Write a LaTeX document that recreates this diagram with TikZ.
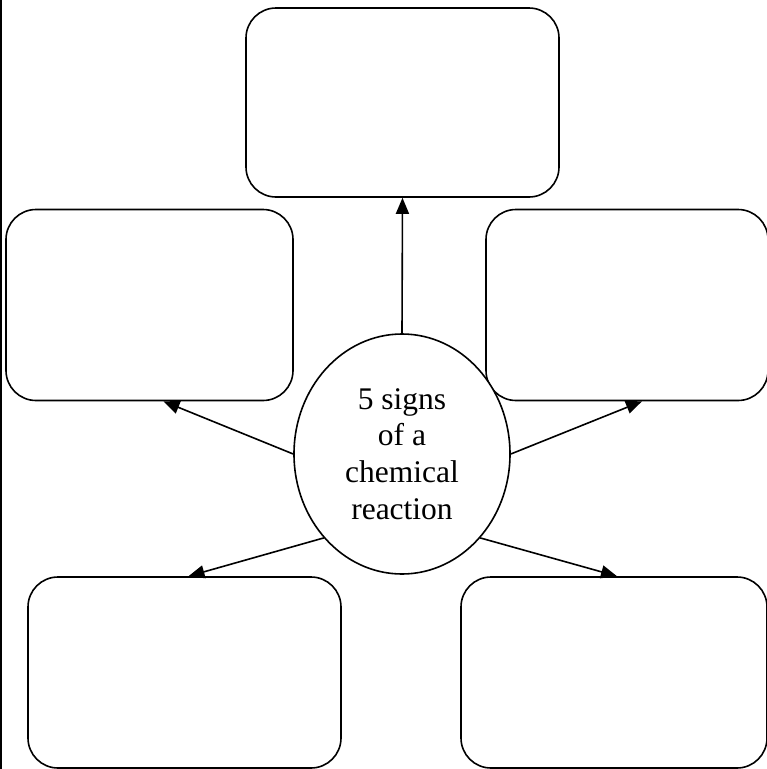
\documentclass[tikz,border=0pt]{standalone}
\usepackage{fontspec}
\setmainfont{Liberation Serif}
\usepackage{tikz}
\usetikzlibrary{positioning,
				shapes.geometric,
				arrows.meta}

\begin{document}
\begin{tikzpicture}[x=1pt, y=-1pt, line width=1.6pt,
		signbox/.style={draw, rounded corners=30pt, minimum height=191pt},
		tip/.style={-{Triangle[length=16pt,width=13pt]}}]
	\useasboundingbox (0,0) rectangle (767,769);
	\draw (1,0) -- (1,769);
	% the five empty boxes
	\node[signbox, minimum width=313pt, minimum height=189pt] (top) at (402.5,102.5) {};
	\node[signbox, minimum width=287pt] (left) at (149.5,305) {};
	\node[signbox, minimum width=282pt] (right) at (627,305) {};
	\node[signbox, minimum width=313pt] (botleft) at (184.5,672.5) {};
	\node[signbox, minimum width=306pt] (botright) at (614,672.5) {};
	\node[draw, ellipse, fill=white, inner sep=0pt, minimum width=216pt, minimum height=240pt,
		align=center, font=\fontsize{31.5}{36.7}\selectfont] (signs) at (402,454)
		{5 signs\\of a\\chemical\\reaction};
	\draw[tip] (signs.north) -- (top.south);
	\draw[tip] (signs.west) -- ([xshift=14pt]left.south);
	\draw[tip] (signs.east) -- ([xshift=15pt]right.south);
	\draw[tip] (signs.227) -- ([xshift=4pt]botleft.north);
	\draw[tip] (signs.-47) -- ([xshift=3pt]botright.north);
\end{tikzpicture}
\end{document}
